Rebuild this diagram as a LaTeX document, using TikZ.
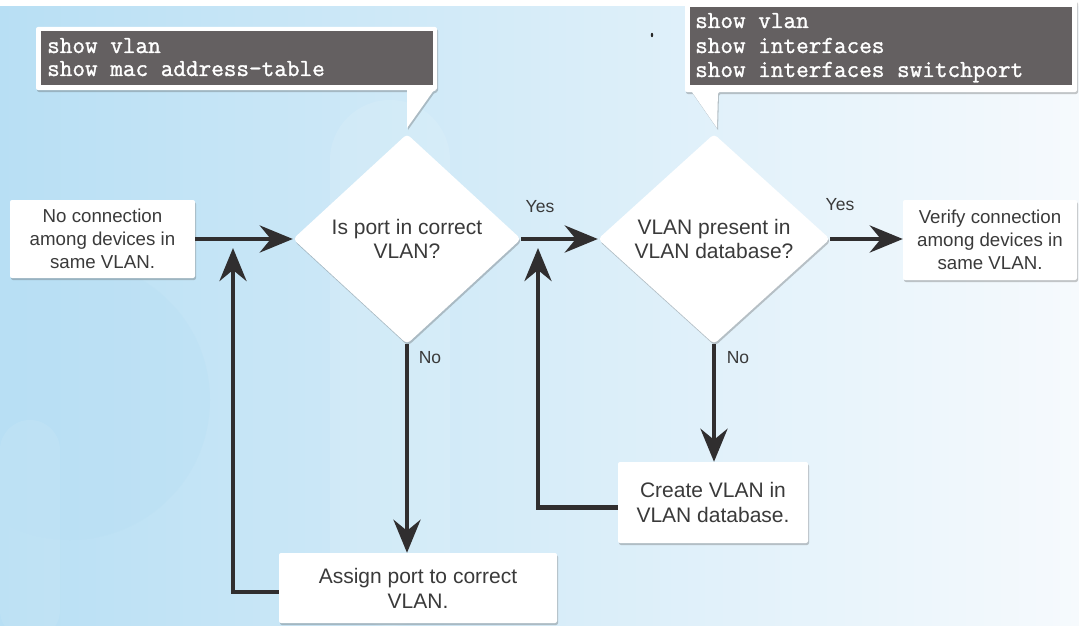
\documentclass[tikz,border=0pt]{standalone}
\usepackage{fontspec}
\setmainfont{Liberation Sans}
\newfontfamily\cmdfont{Latin Modern Mono}[FakeBold=1.3]
\usetikzlibrary{shapes.geometric,arrows.meta,shadows}
\definecolor{bgleft}{RGB}{184,223,244}
\definecolor{bgmid}{RGB}{212,235,248}
\definecolor{bgright}{RGB}{246,250,253}
\definecolor{cmdbg}{RGB}{100,96,97}
\definecolor{txt}{RGB}{58,58,58}
\definecolor{lin}{RGB}{48,46,47}
\begin{document}
\begin{tikzpicture}[x=1pt,y=-1pt,
  shad/.style={drop shadow={shadow xshift=1pt,shadow yshift=-2pt,opacity=0.3,fill=black!70}},
  box/.style={fill=white,rounded corners=2pt,shad,font=\fontsize{18.7}{23}\selectfont,
    text=txt,align=center,inner sep=0pt},
  bigbox/.style={box,font=\fontsize{21}{25}\selectfont},
  decision/.style={diamond,fill=white,rounded corners=4pt,shad,minimum width=#1,
    minimum height=210pt,inner sep=0pt,font=\fontsize{21}{24}\selectfont,text=txt,align=center},
  decision/.default=228pt,
  cmd/.style={anchor=base west,inner sep=0pt,text=white,font=\cmdfont\fontsize{24.5}{24}\selectfont},
  lbl/.style={inner sep=0pt,text=txt,font=\fontsize{17.5}{20}\selectfont},
  flow/.style={draw=lin,line width=4.5pt,-{Stealth[length=33pt,width=27pt,inset=11pt]}}]
\useasboundingbox (0,0) rectangle (1079,626);
\fill[white] (0,0) rectangle (1079,626);
\shade[left color=bgleft,middle color=bgmid,right color=bgright] (0,7) rectangle (1079,626);
% faint background shapes
\fill[white,opacity=0.10,rounded corners=60pt] (330,100) rectangle (450,626);
\fill[bgleft,opacity=0.35] (70,400) circle (140);
\fill[white,opacity=0.08,rounded corners=30pt] (0,420) rectangle (60,640);
% speck
\fill[black!85] (652,35) ellipse (1.2 and 2.2);
% callout 1
\path[fill=white,shad,rounded corners=2pt] (36,27) -- (437,27) -- (437,90) -- (434,90)
  [sharp corners] -- (407,128) -- (407,90) [rounded corners=2pt] -- (36,90) -- cycle;
\fill[cmdbg] (41,31) rectangle (433,85);
\node[cmd] (c1a) at (47,53) {show vlan};
\node[cmd] (c1b) at (47,76) {show mac address-table};
% callout 2
\path[fill=white,shad,rounded corners=2pt] (685,0) -- (1077,0) -- (1077,92) -- (718,92)
  [sharp corners] -- (717,128) -- (692,92) [rounded corners=2pt] -- (685,92) -- cycle;
\fill[cmdbg] (690,7) rectangle (1072,85);
\node[cmd] (c2a) at (695,28) {show vlan};
\node[cmd] (c2b) at (695,53) {show interfaces};
\node[cmd] (c2c) at (695,77) {show interfaces switchport};
% nodes
\node[box,minimum width=185pt,minimum height=78pt] (start) at (102.5,239) {No connection\\among devices in\\same VLAN.};
\node[decision] (d1) at (407,239) {Is port in correct\\VLAN?};
\node[decision=232pt] (d2) at (714,239) {VLAN present in\\VLAN database?};
\node[box,minimum width=174pt,minimum height=80pt] (verify) at (990,240) {Verify connection\\among devices in\\same VLAN.};
\node[bigbox,minimum width=190pt,minimum height=81pt] (create) at (713,502.5) {Create VLAN in\\VLAN database.};
\node[bigbox,minimum width=278pt,minimum height=70pt] (assign) at (418,588) {Assign port to correct\\VLAN.};
\coordinate (r1) at (233,248);
\coordinate (r2) at (538,248);
% connectors
\draw[flow] (start.east) -- (d1.west);
\draw[flow] (d1.east) -- (d2.west);
\draw[flow] (d2.east) -- (verify.west |- d2.east);
\draw[flow] (d1.south) -- (d1.south |- assign.north);
\draw[flow] (d2.south) -- (d2.south |- create.north);
\draw[flow] ([yshift=-4pt]assign.west) -| (r1);
\draw[flow] ([yshift=-5pt]create.west) -| (r2);
% labels
\node[lbl] (y1) at (540,207) {Yes};
\node[lbl] (y2) at (840,205) {Yes};
\node[lbl] (n1) at (430,358) {No};
\node[lbl] (n2) at (738,358) {No};
\end{tikzpicture}
\end{document}
